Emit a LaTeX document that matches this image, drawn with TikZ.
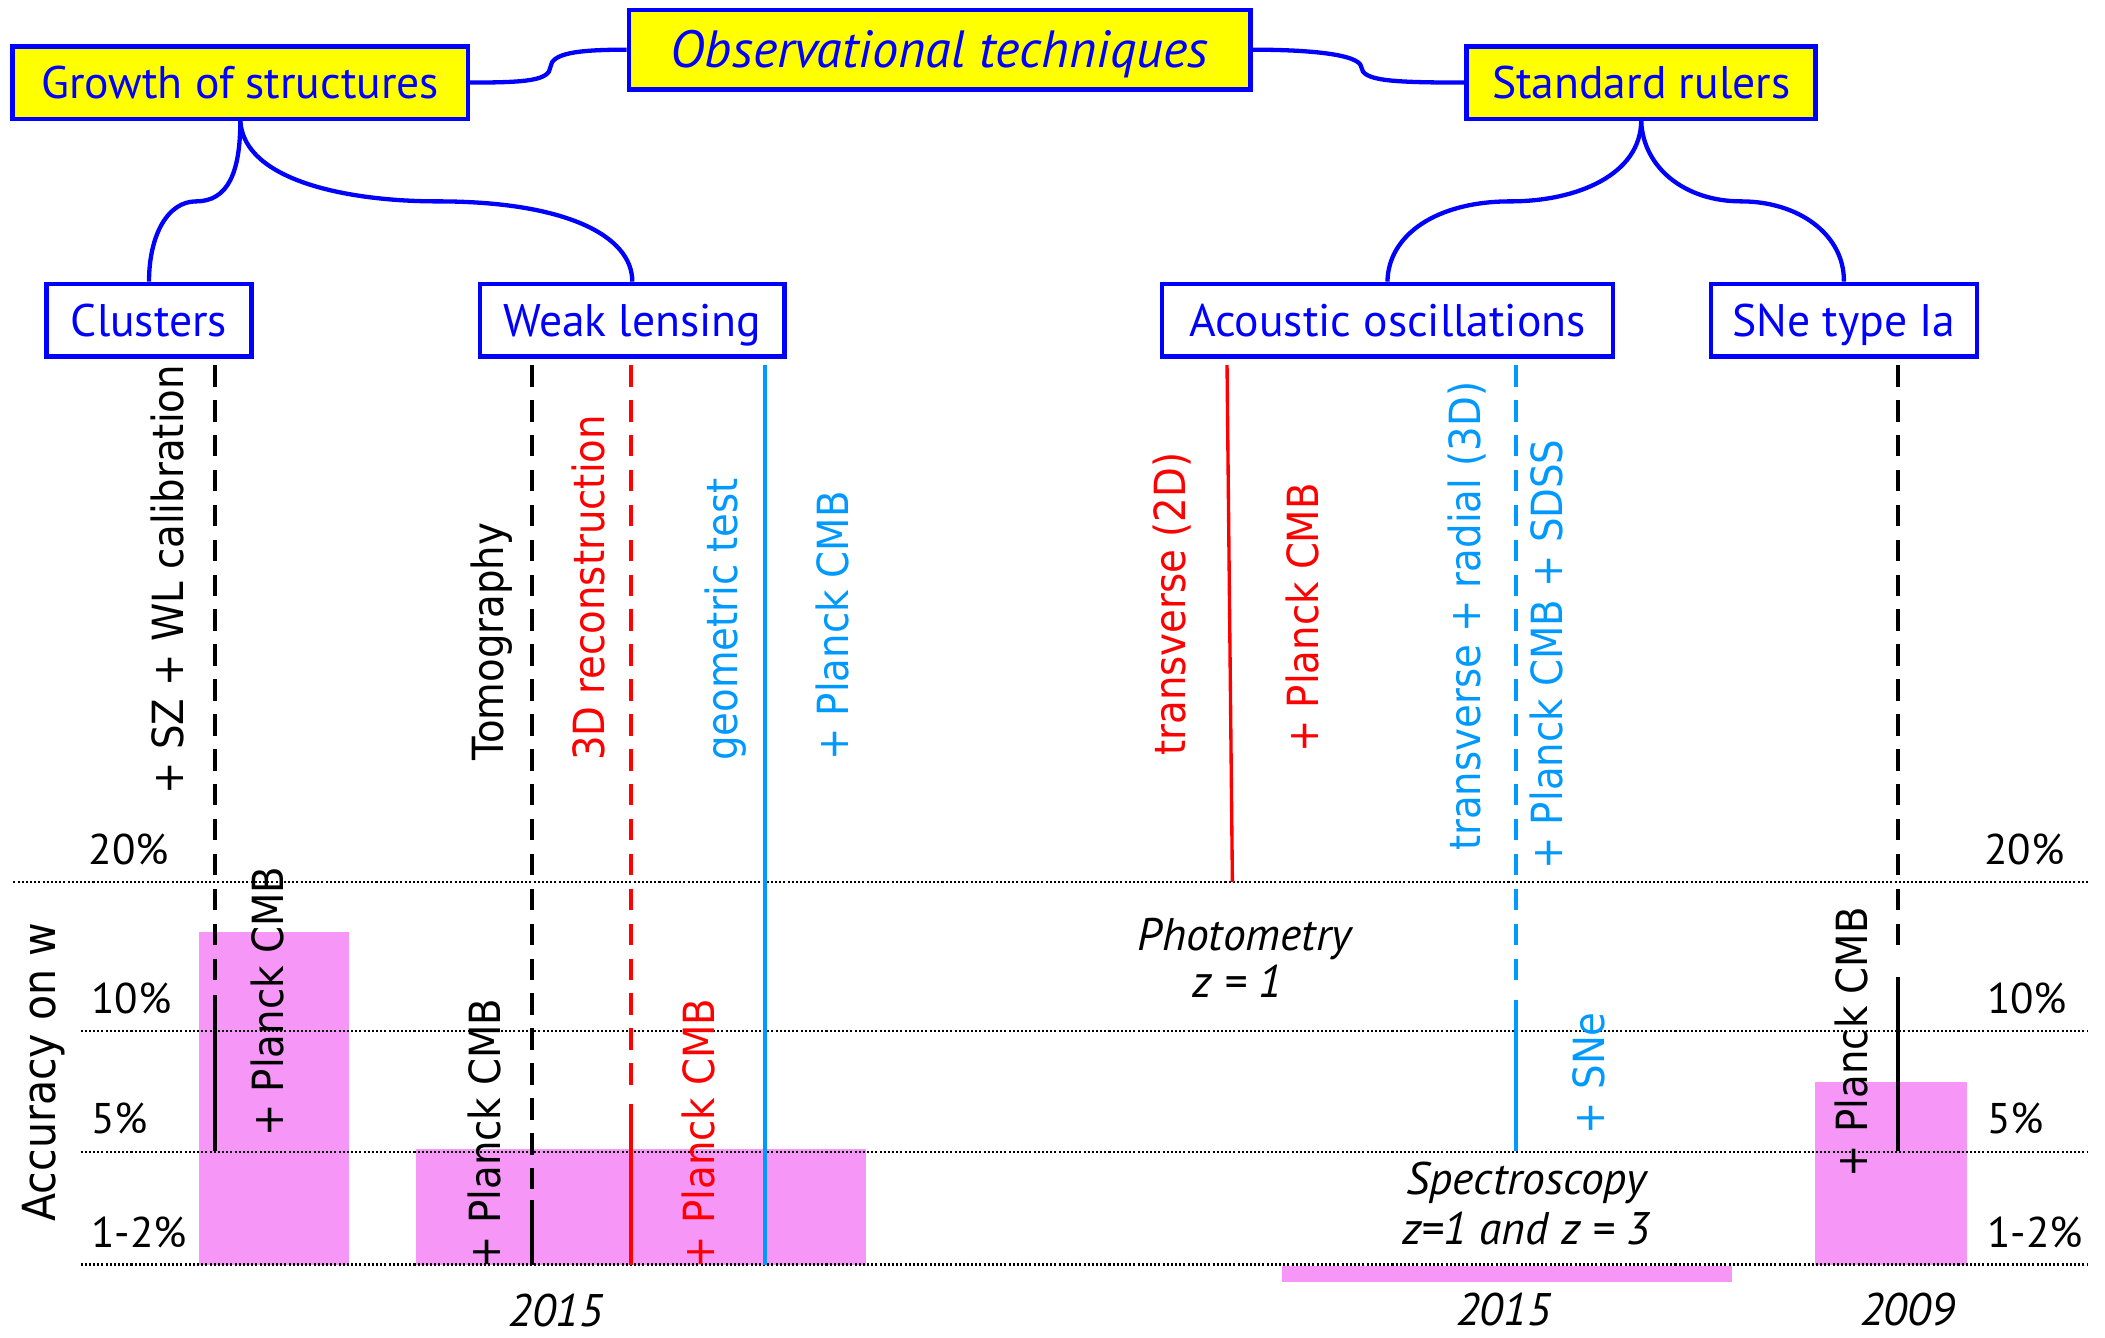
\documentclass[tikz,border=0pt]{standalone}
\usepackage{fontspec}
\setmainfont{PT Sans}
\newfontfamily\dvs[FakeStretch=0.9]{DejaVu Sans}
\definecolor{ylw}{RGB}{255,255,0}
\definecolor{bblue}{RGB}{0,0,255}
\definecolor{rred}{RGB}{255,0,0}
\definecolor{lblue}{RGB}{0,153,255}
\definecolor{pinkband}{RGB}{246,150,246}
\tikzset{
  boxbase/.style={draw=bblue, line width=3.4pt, text=bblue, inner sep=0pt, text height=24pt, text depth=0pt, font=\fontsize{34}{40}\selectfont},
  topbox/.style={boxbase, fill=ylw, minimum height=54pt},
  subbox/.style={boxbase, fill=white, minimum height=54pt},
  link/.style={draw=bblue, line width=3.2pt},
  gridline/.style={line width=1.7pt, dash pattern=on 1.5pt off 1.6pt},
  vdash/.style={line width=3pt, dash pattern=on 16pt off 10pt},
  vsolid/.style={line width=3pt},
  rlabel/.style={rotate=90, anchor=base west, inner sep=0pt, font=\dvs\fontsize{32}{36}\selectfont},
  pct/.style={anchor=base west, inner sep=0pt, font=\fontsize{32}{36}\selectfont},
  itl/.style={anchor=base, inner sep=0pt, font=\itshape\fontsize{34}{40}\selectfont},
  band/.style={fill=pinkband, draw=none},
}
\begin{document}
\begin{tikzpicture}[x=1pt, y=-1pt]
\useasboundingbox (0,0) rectangle (1568,996);

% pink bands
\fill[band] (148,694) rectangle (260,942);
\fill[band] (310,856) rectangle (645,942);
\fill[band] (955,943) rectangle (1290,955);
\fill[band] (1352,806) rectangle (1465,942);

% dotted accuracy levels
\draw[gridline] (10,657) -- (1555,657);
\draw[gridline] (60,768) -- (1555,768);
\draw[gridline] (60,858) -- (1555,858);
\draw[gridline] (60,942) -- (1555,942);

% vertical lines
\draw[vdash] (160,272) -- (160,730);
\draw[vsolid] (160,741) -- (160,857);
\draw[vdash] (396,272) -- (396,886);
\draw[vsolid] (396,894) -- (396,942);
\draw[vdash, rred] (470,272) -- (470,808);
\draw[vsolid, rred] (470,822) -- (470,942);
\draw[vsolid, lblue] (570,272) -- (570,942);
\draw[line width=2.5pt, rred] (914,272) -- (918,657);
\draw[vdash, lblue] (1129,272) -- (1129,730);
\draw[vsolid, lblue] (1129,745) -- (1129,857);
\draw[vdash] (1414,272) -- (1414,704);
\draw[vsolid] (1414,728) -- (1414,857);

% rotated labels
\node[rlabel] (szwl) at (137,592) {+ SZ + WL calibration};
\node[rlabel] (clcmb) at (211,847) {+ Planck CMB};
\node[rlabel] (tomo) at (375,567) {Tomography};
\node[rlabel, text=rred] (recon) at (450,567) {3D reconstruction};
\node[rlabel, text=lblue] (geom) at (549,567) {geometric test};
\node[rlabel, text=lblue] (geomcmb) at (632,567) {+ Planck CMB};
\node[rlabel] (tomocmb) at (373,945) {+ Planck CMB};
\node[rlabel, text=rred] (reconcmb) at (532,945) {+ Planck CMB};
\node[rlabel, text=rred] (trans) at (883,563) {transverse (2D)};
\node[rlabel, text=rred] (transcmb) at (982,561) {+ Planck CMB};
\node[rlabel, text=lblue] (rad) at (1103,634) {transverse + radial (3D)};
\node[rlabel, text=lblue] (radcmb) at (1164,648) {+ Planck CMB + SDSS};
\node[rlabel, text=lblue] (radsne) at (1195,845) {+ SNe};
\node[rlabel] (snecmb) at (1391,877) {+ Planck CMB};
\node[rlabel, font=\dvs\fontsize{34}{38}\selectfont] (acc) at (41,910) {Accuracy on w};

% percent labels
\node[pct] (l20) at (66,644) {20\%};
\node[pct] (l10) at (68,755) {10\%};
\node[pct] (l5) at (68,844) {5\%};
\node[pct] (l12) at (68,929) {1-2\%};
\node[pct] (r20) at (1478,644) {20\%};
\node[pct] (r10) at (1480,755) {10\%};
\node[pct] (r5) at (1480,844) {5\%};
\node[pct] (r12) at (1480,929) {1-2\%};

% italic notes
\node[itl] (photo) at (927,708) {Photometry};
\node[itl] (z1) at (922,743) {z = 1};
\node[itl] (spec) at (1137,890) {Spectroscopy};
\node[itl] (z13) at (1137,927) {z=1 and z = 3};
\node[itl] (y1) at (414,988) {2015};
\node[itl] (y2) at (1120,987) {2015};
\node[itl] (y3) at (1421,987) {2009};

% boxes
\node[topbox, minimum width=339pt] (growth) at (179,61.5) {Growth of structures};
\node[topbox, minimum width=463pt, minimum height=59pt, text height=27pt, font=\itshape\fontsize{39}{44}\selectfont] (obs) at (700,37) {Observational techniques};
\node[topbox, minimum width=260pt] (std) at (1222.5,61.5) {Standard rulers};
\node[subbox, minimum width=153pt] (clusters) at (111,238.5) {Clusters};
\node[subbox, minimum width=227pt] (wl) at (471,238.5) {Weak lensing};
\node[subbox, minimum width=336pt] (ao) at (1033.5,238.5) {Acoustic oscillations};
\node[subbox, minimum width=198pt] (sne) at (1373.5,238.5) {SNe type Ia};

% connectors
\coordinate (kL) at (410,50);
\coordinate (kR) at (1014,50);
\coordinate (gL) at (146,150);
\coordinate (gR) at (326,150);
\coordinate (sL) at (1125,150);
\coordinate (sR) at (1297,150);
\draw[link] (growth.east) .. controls (392,61.5) and (409,60) .. (kL) .. controls (411,40) and (428,37) .. (obs.west);
\draw[link] (obs.east) .. controls (972,37) and (1013,40) .. (kR) .. controls (1015,60) and (1035,61.5) .. (std.west);
\draw[link] (growth.south) .. controls (179,128) and (170,150) .. (gL) .. controls (125,150) and (111,175) .. (clusters.north);
\draw[link] (growth.south) .. controls (182,135) and (260,150) .. (gR) .. controls (420,150) and (471,175) .. (wl.north);
\draw[link] (std.south) .. controls (1222,130) and (1175,150) .. (sL) .. controls (1070,150) and (1034,175) .. (ao.north);
\draw[link] (std.south) .. controls (1224,125) and (1255,150) .. (sR) .. controls (1340,150) and (1374,175) .. (sne.north);
\end{tikzpicture}
\end{document}
